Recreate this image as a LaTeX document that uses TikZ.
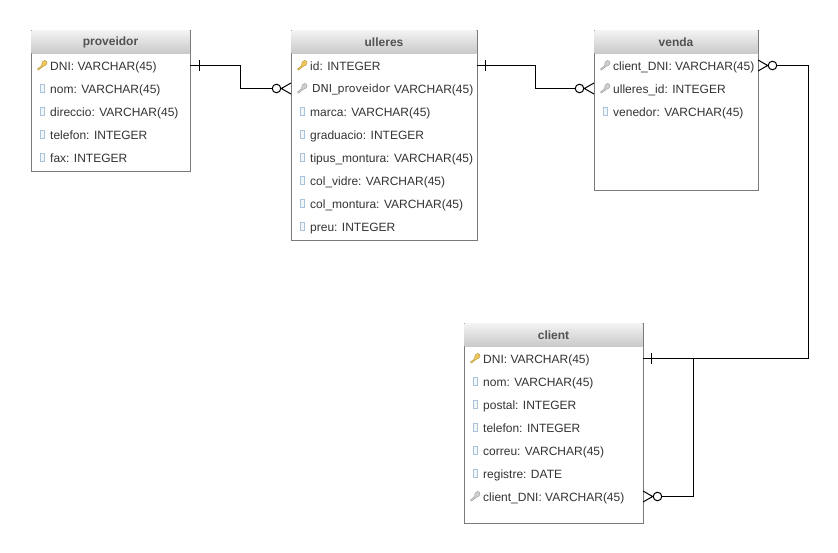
\documentclass[tikz,border=0pt]{standalone}
\usepackage{fontspec}
\setmainfont{Liberation Sans}
\newfontfamily\dejavu{DejaVu Sans}
\usetikzlibrary{positioning}
\definecolor{boxgray}{HTML}{7A7A7A}
\definecolor{headtop}{HTML}{F2F2F2}
\definecolor{headbot}{HTML}{C9C9C9}
\definecolor{fieldtext}{HTML}{333333}
\definecolor{pkgold}{HTML}{EFC65A}
\definecolor{fkgray}{HTML}{CFCFCF}
\definecolor{colblue}{HTML}{A9C3DA}
\tikzset{
  every node/.style={font=\fontsize{12}{14}\selectfont},
  tablebox/.style 2 args={draw=boxgray,line width=1pt,fill=white,inner sep=0,outer sep=0,anchor=north west,minimum width=#1,minimum height=#2},
  tablehead/.style={anchor=north west,inner sep=0,outer sep=0,minimum width=#1-1,minimum height=22.5,xshift=0.5,yshift=-0.5,top color=headtop,bottom color=headbot,font=\fontsize{12}{14}\selectfont\bfseries,text=fieldtext!85},
  field/.style={anchor=west,inner sep=0,text height=11,text depth=1,text=fieldtext},
  rel/.style={line width=1pt,black},
  ring/.style={circle,draw,line width=1pt,fill=white,inner sep=0,minimum size=8.6},
  keyicon/.pic={
    \draw[#1!80!black,line width=0.5pt,fill=#1] (-4.5,4) -- (-0.5,0.8) -- (0.2,-3) to[out=60,in=180] (2.5,-4.5) to[out=0,in=90] (5,-2) to[out=-90,in=20] (1.5,1.2) -- (-3.5,5) -- cycle;
  },
  colicon/.pic={
    \draw[colblue,line width=0.9pt,fill=colblue!15] (-1.8,-4) rectangle (1.8,4);
  }
}
\begin{document}
\begin{tikzpicture}[x=1pt,y=-1pt]
\useasboundingbox (0,0) rectangle (838,553);
% proveidor
\node[tablebox={159}{141}] (proveidor) at (31,30.5) {};
\node[tablehead=159] (proveidorh) at (proveidor.north west) {proveidor};
\node[field] (pdni) at (50,65.5) {DNI: VARCHAR(45)};
\node[field] (pnom) at (50,88.5) {nom: VARCHAR(45)};
\node[field] (pdir) at (50,111.5) {direccio: VARCHAR(45)};
\node[field] (ptel) at (50,134.5) {telefon: INTEGER};
\node[field] (pfax) at (50,157.5) {fax: INTEGER};
\pic at (42,65) {keyicon=pkgold};
\foreach \y in {88.5,111.5,134.5,157.5} \pic at (42.7,\y) {colicon};

% ulleres
\node[tablebox={186}{210}] (ulleres) at (291,30.5) {};
\node[tablehead=186] (ulleresh) at (ulleres.north west) {ulleres};
\node[field] (uid) at (310,65.5) {id: INTEGER};
\node[field,font=\dejavu\fontsize{11}{13}\selectfont] (udni) at (312,87.5) {DNI\_proveidor};
\node[field] (uvar) at (394,88.5) {VARCHAR(45)};
\node[field] (umar) at (310,111.5) {marca: VARCHAR(45)};
\node[field] (ugra) at (310,134.5) {graduacio: INTEGER};
\node[field] (utip) at (310,157.5) {tipus\_montura: VARCHAR(45)};
\node[field] (uvid) at (310,180.5) {col\_vidre: VARCHAR(45)};
\node[field] (umon) at (310,203.5) {col\_montura: VARCHAR(45)};
\node[field] (upre) at (310,226.5) {preu: INTEGER};
\pic at (302,65) {keyicon=pkgold};
\pic at (302,88) {keyicon=fkgray};
\foreach \y in {111.5,134.5,157.5,180.5,203.5,226.5} \pic at (302.7,\y) {colicon};

% venda
\node[tablebox={164}{160}] (venda) at (594,30.5) {};
\node[tablehead=164] (vendah) at (venda.north west) {venda};
\node[field] (vcli) at (613,65.5) {client\_DNI: VARCHAR(45)};
\node[field] (vull) at (613,88.5) {ulleres\_id: INTEGER};
\node[field] (vven) at (613,111.5) {venedor: VARCHAR(45)};
\pic at (605,65) {keyicon=fkgray};
\pic at (605,88) {keyicon=fkgray};
\pic at (605.7,111.5) {colicon};

% client
\node[tablebox={179}{200}] (client) at (464,323.5) {};
\node[tablehead=179] (clienth) at (client.north west) {client};
\node[field] (cdni) at (483,358.5) {DNI: VARCHAR(45)};
\node[field] (cnom) at (483,381.5) {nom: VARCHAR(45)};
\node[field] (cpos) at (483,404.5) {postal: INTEGER};
\node[field] (ctel) at (483,427.5) {telefon: INTEGER};
\node[field] (ccor) at (483,450.5) {correu: VARCHAR(45)};
\node[field] (creg) at (483,473.5) {registre: DATE};
\node[field] (ccli) at (483,496.5) {client\_DNI: VARCHAR(45)};
\pic at (475,358) {keyicon=pkgold};
\pic at (475,496) {keyicon=fkgray};
\foreach \y in {381.5,404.5,427.5,450.5,473.5} \pic at (475.7,\y) {colicon};

% relations
\node[ring] (o1) at (276.5,88.5) {};
\coordinate (a1) at (proveidor.east |- 0,65.5);
\draw[rel] (a1) -- ++(50,0) |- (o1);
\draw[rel] (a1)++(9,-5.5) -- ++(0,11);
\draw[rel] (291,83) -- (o1.east) -- (291,94);

\node[ring] (o2) at (579.5,88.5) {};
\coordinate (a2) at (ulleres.east |- 0,65.5);
\draw[rel] (a2) -- ++(58,0) |- (o2);
\draw[rel] (a2)++(8,-5.5) -- ++(0,11);
\draw[rel] (594,83) -- (o2.east) -- (594,94);

\node[ring] (o3) at (772.5,65.5) {};
\coordinate (a3) at (client.east |- 0,358.5);
\draw[rel] (o3) -- (808.5,65.5) -- (808.5,358.5) -- (a3);
\draw[rel] (a3)++(8,-5.5) -- ++(0,11);
\draw[rel] (758,60) -- (o3.west) -- (758,71);

\node[ring] (o4) at (657.5,496.5) {};
\draw[rel] (693.5,358.5) |- (o4);
\draw[rel] (643,491) -- (o4.west) -- (643,502);
\end{tikzpicture}
\end{document}
